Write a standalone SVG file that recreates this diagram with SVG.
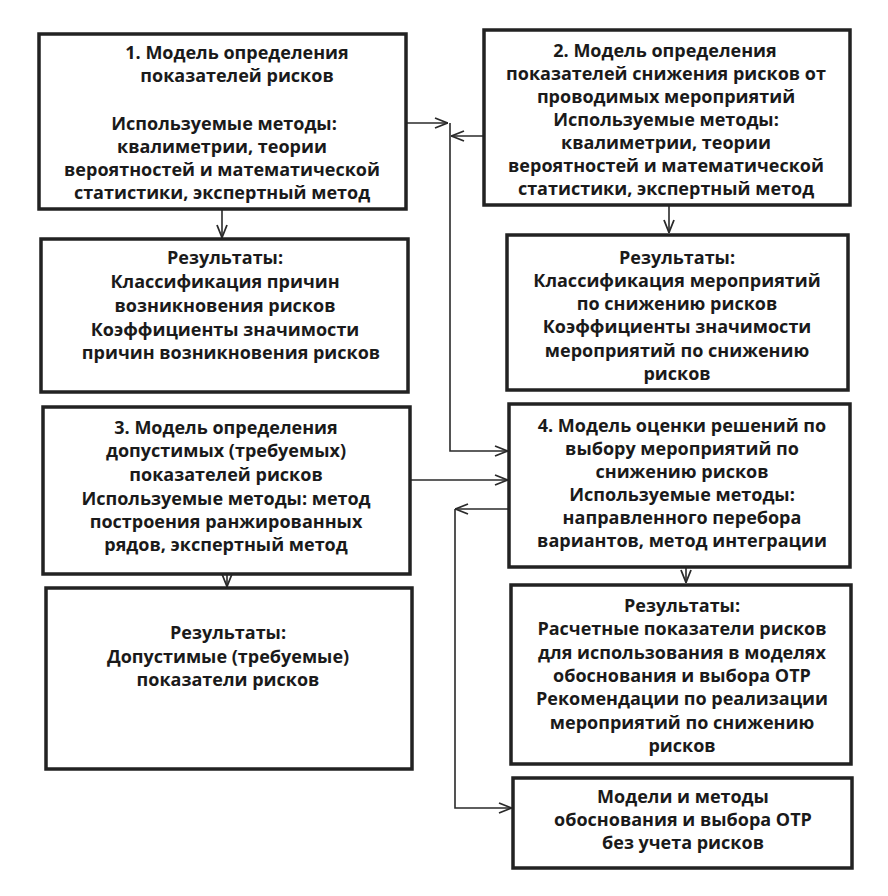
<svg xmlns="http://www.w3.org/2000/svg" width="888" height="896" viewBox="0 0 888 896">
<defs>
<style>
.box{fill:#fff;stroke:#222;stroke-width:3.5}
.t{font-family:"Open Sans","Noto Sans","Liberation Sans",sans-serif;font-weight:bold;font-size:18px;fill:#1a1a1a;text-anchor:middle}
.c{fill:none;stroke:#2a2a2a;stroke-width:1.6}
</style>
<marker id="ah" viewBox="0 0 14 12" refX="14" refY="6" markerWidth="14" markerHeight="12" markerUnits="userSpaceOnUse" orient="auto">
<path d="M1,1 L13.5,6 L1,11" fill="none" stroke="#2a2a2a" stroke-width="1.8"/>
</marker>
</defs>
<rect width="888" height="896" fill="#fff"/>

<g id="connectors">
<path class="c" d="M406,123 H448" marker-end="url(#ah)"/>
<path class="c" d="M484,136 H451" marker-end="url(#ah)"/>
<path class="c" d="M450,123 V451 H508" marker-end="url(#ah)"/>
<path class="c" d="M222,209 V238" marker-end="url(#ah)"/>
<path class="c" d="M669,205 V233" marker-end="url(#ah)"/>
<path class="c" d="M410,480 H508" marker-end="url(#ah)"/>
<path class="c" d="M509,509 H455" marker-end="url(#ah)"/>
<path class="c" d="M455,509 V808 H512" marker-end="url(#ah)"/>
<path class="c" d="M227,574 V587" marker-end="url(#ah)"/>
<path class="c" d="M686,567 V583" marker-end="url(#ah)"/>
</g>

<g id="box1">
<rect class="box" x="39" y="34" width="367" height="175"/>
<text class="t" x="237" y="59">1. Модель определения</text>
<text class="t" x="237" y="82">показателей рисков</text>
<text class="t" x="224" y="130">Используемые методы:</text>
<text class="t" x="222" y="153">квалиметрии, теории</text>
<text class="t" x="222" y="176">вероятностей и математической</text>
<text class="t" x="222" y="199">статистики, экспертный метод</text>
</g>

<g id="box2">
<rect class="box" x="484" y="30" width="366" height="175"/>
<text class="t" x="665" y="57">2. Модель определения</text>
<text class="t" x="666" y="80">показателей снижения рисков от</text>
<text class="t" x="666" y="103">проводимых мероприятий</text>
<text class="t" x="666" y="126">Используемые методы:</text>
<text class="t" x="666" y="149">квалиметрии, теории</text>
<text class="t" x="666" y="172">вероятностей и математической</text>
<text class="t" x="666" y="195">статистики, экспертный метод</text>
</g>

<g id="result1">
<rect class="box" x="41" y="239" width="367" height="153"/>
<text class="t" x="225" y="264">Результаты:</text>
<text class="t" x="225" y="288">Классификация причин</text>
<text class="t" x="225" y="312">возникновения рисков</text>
<text class="t" x="225" y="336">Коэффициенты значимости</text>
<text class="t" x="231" y="359">причин возникновения рисков</text>
</g>

<g id="result2">
<rect class="box" x="507" y="235" width="341" height="155"/>
<text class="t" x="677" y="264">Результаты:</text>
<text class="t" x="677" y="287">Классификация мероприятий</text>
<text class="t" x="677" y="310">по снижению рисков</text>
<text class="t" x="677" y="333">Коэффициенты значимости</text>
<text class="t" x="677" y="357">мероприятий по снижению</text>
<text class="t" x="677" y="380">рисков</text>
</g>

<g id="box3">
<rect class="box" x="43" y="407" width="367" height="167"/>
<text class="t" x="226" y="434">3. Модель определения</text>
<text class="t" x="226" y="457">допустимых (требуемых)</text>
<text class="t" x="226" y="481">показателей рисков</text>
<text class="t" x="226" y="505">Используемые методы: метод</text>
<text class="t" x="226" y="528">построения ранжированных</text>
<text class="t" x="226" y="551">рядов, экспертный метод</text>
</g>

<g id="box4">
<rect class="box" x="509" y="404" width="341" height="163"/>
<text class="t" x="682" y="432">4. Модель оценки решений по</text>
<text class="t" x="682" y="455">выбору мероприятий по</text>
<text class="t" x="682" y="478">снижению рисков</text>
<text class="t" x="682" y="501">Используемые методы:</text>
<text class="t" x="682" y="524">направленного перебора</text>
<text class="t" x="682" y="547">вариантов, метод интеграции</text>
</g>

<g id="result3">
<rect class="box" x="46" y="588" width="366" height="181"/>
<text class="t" x="228" y="639">Результаты:</text>
<text class="t" x="228" y="663">Допустимые (требуемые)</text>
<text class="t" x="228" y="686">показатели рисков</text>
</g>

<g id="result4">
<rect class="box" x="511" y="585" width="340" height="179"/>
<text class="t" x="682" y="612">Результаты:</text>
<text class="t" x="682" y="635">Расчетные показатели рисков</text>
<text class="t" x="682" y="659">для использования в моделях</text>
<text class="t" x="682" y="682">обоснования и выбора ОТР</text>
<text class="t" x="682" y="705">Рекомендации по реализации</text>
<text class="t" x="682" y="729">мероприятий по снижению</text>
<text class="t" x="682" y="752">рисков</text>
</g>

<g id="box5">
<rect class="box" x="513" y="778" width="339" height="90"/>
<text class="t" x="683" y="803">Модели и методы</text>
<text class="t" x="683" y="826">обоснования и выбора ОТР</text>
<text class="t" x="683" y="849">без учета рисков</text>
</g>
</svg>
